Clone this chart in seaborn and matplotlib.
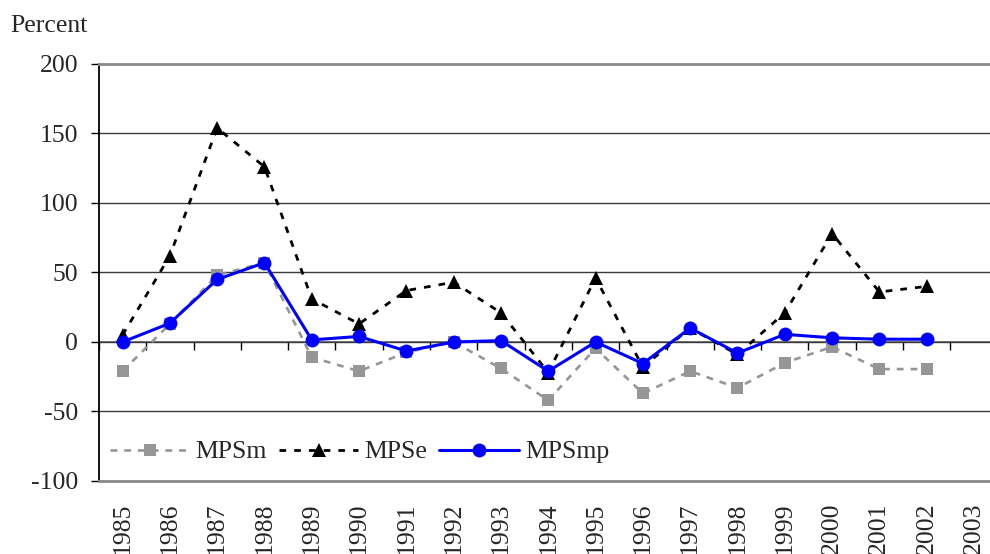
import numpy as np
import pandas as pd
import matplotlib
matplotlib.use("Agg")
import matplotlib.pyplot as plt
import seaborn as sns

years = ["1985", "1986", "1987", "1988", "1989", "1990", "1991", "1992", "1993", "1994",
         "1995", "1996", "1997", "1998", "1999", "2000", "2001", "2002", "2003"]
mpsm = [-21, 13, 48, 57, -11, -21, -7.5, 0, -19, -42, -4.5, -37, -21, -33, -15, -3.5, -19.5, -19.5, np.nan]
mpse = [5, 62, 154, 126, 31, 13, 37, 43, 21, -22, 46, -18, 10, -9, 21, 78, 36, 40, np.nan]
mpsmp = [0, 13.5, 45, 57, 1.5, 4, -6.5, 0, 1, -21, 0, -15.5, 10, -8, 5.5, 3, 2, 2, np.nan]
yticks = [-100, -50, 0, 50, 100, 150, 200]
ytick_labels = ["-100", "-50", "0", "50", "100", "150", "200"]

sns.set_theme(style="white")
plt.rcParams["font.family"] = ["Liberation Serif", "DejaVu Serif"]
FS = 18.5

pos = np.arange(len(years))
df = pd.DataFrame({"pos": pos, "MPSm": mpsm, "MPSe": mpse, "MPSmp": mpsmp})

fig = plt.figure(figsize=(9.9, 5.54), dpi=100)
ax = fig.add_axes([0.0999, 0.1318, 0.9078, 0.7527])

# gridlines
ax.set_axisbelow(True)
ax.yaxis.grid(True, color="#3a3a3a", linewidth=1.0)

sns.lineplot(data=df, x="pos", y="MPSm", ax=ax, color="#969696", linewidth=1.9,
             linestyle=(0, (2.6, 2.6)), marker="s", markersize=8.8,
             markeredgecolor="#969696", markeredgewidth=0, label="MPSm", zorder=3)
sns.lineplot(data=df, x="pos", y="MPSe", ax=ax, color="black", linewidth=2.0,
             linestyle=(0, (2.4, 2.9)), marker="^", markersize=10,
             markeredgecolor="black", markeredgewidth=0, label="MPSe", zorder=4)
sns.lineplot(data=df, x="pos", y="MPSmp", ax=ax, color="#0000FF", linewidth=2.2,
             linestyle="-", marker="o", markersize=10,
             markeredgecolor="#0000FF", markeredgewidth=0, label="MPSmp", zorder=5)

ax.set_xlim(-0.5, len(years) - 0.5)
ax.set_ylim(-100, 200)
ax.set_xlabel("")
ax.set_ylabel("")

ax.set_yticks(yticks)
ax.set_yticklabels(ytick_labels, fontsize=FS)
ax.tick_params(axis="y", direction="out", length=5.8, width=1, color="black", pad=9, left=True)

ax.set_xticks(pos)
ax.set_xticklabels(years, rotation=90, fontsize=FS, va="top", ha="center")
ax.tick_params(axis="x", length=0, pad=15.5)

for s in ["right"]:
    ax.spines[s].set_visible(False)
ax.spines["left"].set_color("black")
ax.spines["left"].set_linewidth(1.3)
for s in ["top", "bottom"]:
    ax.spines[s].set_color("#8a8a8a")
    ax.spines[s].set_linewidth(2.0)

# category axis crossing at zero with boundary ticks
sec = ax.secondary_xaxis(1 / 3)
sec.set_xticks(np.arange(-0.5, len(years)), labels=[""] * (len(years) + 1))
sec.tick_params(axis="x", direction="out", length=5.8, width=1, color="black")
sec.spines["bottom"].set_color("#7a7a7a")
sec.spines["bottom"].set_linewidth(1.4)

leg = ax.legend(loc="center left", bbox_to_anchor=(0.012, 0.0695), ncol=3, frameon=False,
                fontsize=FS, handlelength=3.1, handletextpad=0.25, columnspacing=0.45,
                borderpad=0, borderaxespad=0)

fig.text(10 / 990, 1 - 32 / 554, "Percent", fontsize=FS, ha="left", va="baseline")

fig.savefig("out.png", dpi=100)
